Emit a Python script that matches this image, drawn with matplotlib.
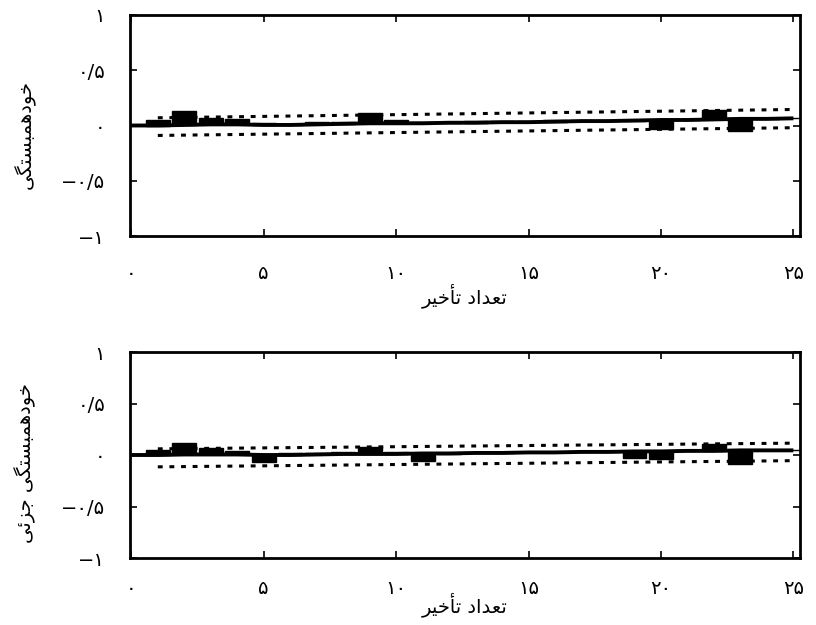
import matplotlib
matplotlib.use("Agg")
import matplotlib.pyplot as plt
import numpy as np

# ---------------- data ----------------
lags = list(range(1, 26))
acf_values = [0.05, 0.13, 0.07, 0.06, 0.02, 0.01, 0.03, 0.03, 0.11, 0.05,
              0.03, 0.03, 0.04, 0.04, 0.04, 0.05, 0.05, 0.05, 0.05, -0.03,
              0.06, 0.14, -0.05, 0.07, 0.07]
pacf_values = [0.05, 0.12, 0.07, 0.04, -0.07, 0.02, 0.02, 0.03, 0.08, 0.03,
               -0.06, 0.01, 0.02, 0.02, 0.03, 0.03, 0.04, 0.04, -0.03, -0.04,
               0.05, 0.11, -0.09, 0.05, 0.05]
center_lags = list(range(0, 26))
acf_center = [0.0, 0.0, 0.005, 0.01, 0.01, 0.005, 0.005, 0.01, 0.015, 0.02,
              0.02, 0.02, 0.025, 0.025, 0.03, 0.03, 0.035, 0.04, 0.04, 0.045,
              0.05, 0.05, 0.055, 0.06, 0.06, 0.065]
pacf_center = [0.0, 0.0, 0.005, 0.005, 0.005, 0.0, 0.0, 0.005, 0.01, 0.01,
               0.01, 0.015, 0.015, 0.02, 0.02, 0.025, 0.025, 0.03, 0.03, 0.035,
               0.035, 0.04, 0.04, 0.045, 0.045, 0.045]
bound_lags = [1, 25]
acf_upper = [0.07, 0.145]
acf_lower = [-0.09, -0.02]
pacf_upper = [0.06, 0.115]
pacf_lower = [-0.115, -0.055]

x_ticks = [0, 5, 10, 15, 20, 25]
x_ticklabels = ['۰', '۵', '۱۰', '۱۵', '۲۰', '۲۵']
y_ticks = [1, 0.5, 0, -0.5, -1]
y_ticklabels = ['۱', '۰/۵', '۰', '−۰/۵', '−۱']
xlabel_text = 'تعداد تأخیر'
ylabel_top = 'خودهمبستگی'
ylabel_bottom = 'خودهمبستگی جزئی'

# ---------------- minimal Arabic shaping (display only) ----------------
FORMS = {  # iso, fin, ini, med ; None => right-joining only
    'ت': ('\uFE95', '\uFE96', '\uFE97', '\uFE98'),
    'ع': ('\uFEC9', '\uFECA', '\uFECB', '\uFECC'),
    'د': ('\uFEA9', '\uFEAA', None, None),
    'ا': ('\uFE8D', '\uFE8E', None, None),
    'أ': ('\uFE83', '\uFE84', None, None),
    'خ': ('\uFEA5', '\uFEA6', '\uFEA7', '\uFEA8'),
    'ی': ('\uFBFC', '\uFBFD', '\uFBFE', '\uFBFF'),
    'ر': ('\uFEAD', '\uFEAE', None, None),
    'و': ('\uFEED', '\uFEEE', None, None),
    'ه': ('\uFEE9', '\uFEEA', '\uFEEB', '\uFEEC'),
    'م': ('\uFEE1', '\uFEE2', '\uFEE3', '\uFEE4'),
    'ب': ('\uFE8F', '\uFE90', '\uFE91', '\uFE92'),
    'س': ('\uFEB1', '\uFEB2', '\uFEB3', '\uFEB4'),
    'گ': ('\uFB92', '\uFB93', '\uFB94', '\uFB95'),
    'ج': ('\uFE9D', '\uFE9E', '\uFE9F', '\uFEA0'),
    'ز': ('\uFEAF', '\uFEB0', None, None),
    'ئ': ('\uFE89', '\uFE8A', '\uFE8B', '\uFE8C'),
}


def shape(text):
    out = []
    n = len(text)
    for i, ch in enumerate(text):
        if ch not in FORMS:
            out.append(ch)
            continue
        f = FORMS[ch]
        prev = text[i - 1] if i > 0 else None
        nxt = text[i + 1] if i + 1 < n else None
        jp = prev in FORMS and FORMS[prev][2] is not None
        jn = f[2] is not None and nxt in FORMS
        if jp and jn:
            out.append(f[3])
        elif jp:
            out.append(f[1])
        elif jn:
            out.append(f[2])
        else:
            out.append(f[0])
    return ''.join(reversed(out))


plt.rcParams['font.family'] = ['DejaVu Sans']

fig = plt.figure(figsize=(8.16, 6.25), dpi=100)
W, H = 816, 625
ax1 = fig.add_axes([130 / W, 1 - 236 / H, 670 / W, 221 / H])
ax2 = fig.add_axes([130 / W, 1 - 558 / H, 670 / W, 206 / H])

panels = [
    (ax1, acf_values, acf_center, acf_upper, acf_lower, ylabel_top, 20, -0.215),
    (ax2, pacf_values, pacf_center, pacf_upper, pacf_lower, ylabel_bottom, 15, -0.165),
]
for ax, vals, center, up, lo, ylab, xpad, xlab_y in panels:
    base = [center[l] for l in lags]
    heights = [v - b for v, b in zip(vals, base)]
    ax.bar(lags, heights, bottom=base, width=0.9, color='black', edgecolor='black')
    ax.plot(center_lags, center, color='black', lw=2.8, solid_capstyle='butt')
    ax.plot(bound_lags, up, color='black', lw=2.2, linestyle=(0, (1.6, 2.2)))
    ax.plot(bound_lags, lo, color='black', lw=2.2, linestyle=(0, (1.6, 2.2)))
    ax.set_xlim(-0.05, 25.25)
    ax.set_ylim(-1, 1)
    ax.set_xticks(x_ticks)
    ax.set_xticklabels(x_ticklabels, fontsize=14)
    ax.set_yticks(y_ticks)
    ax.set_yticklabels(y_ticklabels, fontsize=14)
    ax.tick_params(direction='in', length=5, width=1.2, top=True, right=True,
                   labeltop=False, labelright=False)
    ax.tick_params(axis='x', pad=xpad)
    ax.tick_params(axis='y', pad=18)
    for s in ax.spines.values():
        s.set_linewidth(2.0)
    ax.set_xlabel(shape(xlabel_text), fontsize=14)
    ax.xaxis.set_label_coords(0.5, xlab_y)
    ax.set_ylabel(shape(ylab), fontsize=14)
    ax.yaxis.set_label_coords(-0.14, 0.46)

fig.savefig('out.png', dpi=100, facecolor='white')
